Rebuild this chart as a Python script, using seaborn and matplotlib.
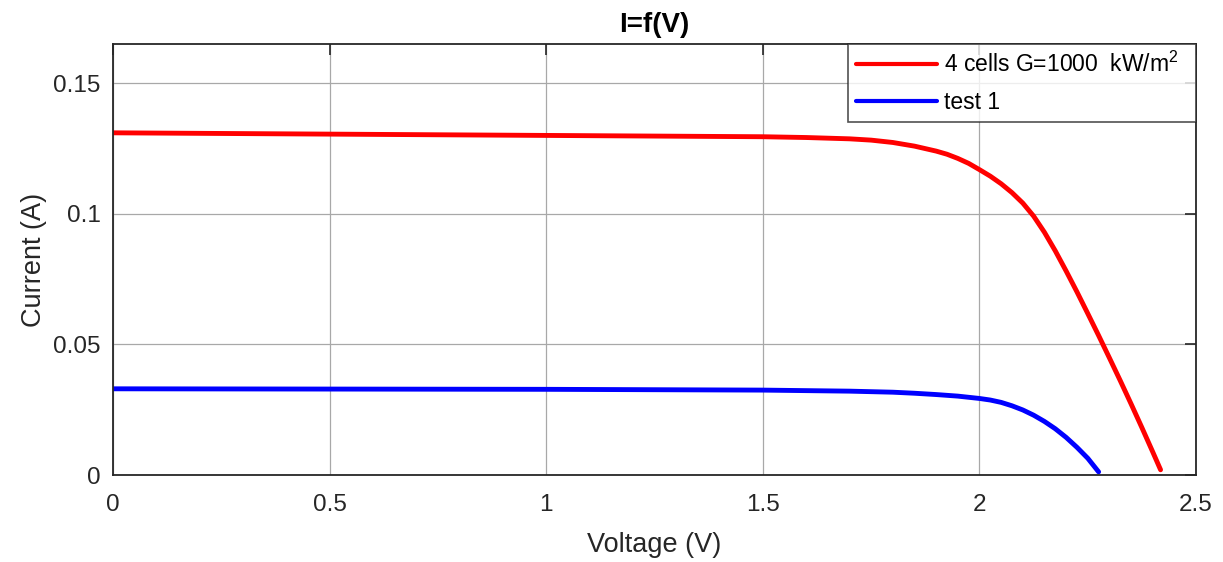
import numpy as np
import pandas as pd
import matplotlib
matplotlib.use("Agg")
import matplotlib.pyplot as plt
import seaborn as sns
from matplotlib.ticker import FormatStrFormatter

# I-V characteristic of the 4-cell module
v_module = [0.0, 0.5, 1.0, 1.5, 1.6, 1.7, 1.75, 1.8, 1.85, 1.9, 1.925, 1.95,
            1.975, 2.0, 2.025, 2.05, 2.075, 2.1, 2.125, 2.15, 2.175, 2.2,
            2.225, 2.25, 2.275, 2.3, 2.325, 2.35, 2.375, 2.4, 2.418]
i_module = [0.1310, 0.1305, 0.1300, 0.1295, 0.1292, 0.1287, 0.1282, 0.1273,
            0.1259, 0.1240, 0.1228, 0.1212, 0.1193, 0.1169, 0.1144, 0.1115,
            0.1081, 0.1041, 0.0991, 0.0929, 0.0858, 0.0781, 0.0701, 0.0618,
            0.0534, 0.0448, 0.0361, 0.0272, 0.0181, 0.0088, 0.0020]

# I-V characteristic of test 1
v_test = [0.0, 0.5, 1.0, 1.5, 1.6, 1.7, 1.75, 1.8, 1.85, 1.9, 1.95, 2.0,
          2.025, 2.05, 2.075, 2.1, 2.125, 2.15, 2.175, 2.2, 2.225, 2.25, 2.275]
i_test = [0.0330, 0.0329, 0.0328, 0.0325, 0.0323, 0.0321, 0.0319, 0.0317,
          0.0313, 0.0308, 0.0302, 0.0293, 0.0287, 0.0278, 0.0265, 0.0249,
          0.0229, 0.0205, 0.0177, 0.0144, 0.0106, 0.0064, 0.0012]

series_names = ["4 cells G=1000  kW/m$^2$", "test 1"]
series_colors = ["#ff0000", "#0000ff"]

x_ticks = [0, 0.5, 1, 1.5, 2, 2.5]
y_ticks = [0, 0.05, 0.1, 0.15]

df = pd.concat([
    pd.DataFrame({"Voltage": v_module, "Current": i_module, "series": series_names[0]}),
    pd.DataFrame({"Voltage": v_test, "Current": i_test, "series": series_names[1]}),
], ignore_index=True)

sns.set_theme(style="white")
plt.rcParams["font.family"] = ["Liberation Sans", "DejaVu Sans"]
plt.rcParams["mathtext.fontset"] = "custom"
plt.rcParams["mathtext.rm"] = "Liberation Sans"
plt.rcParams["mathtext.it"] = "Liberation Sans"

text_color = "#262626"

fig = plt.figure(figsize=(12.23, 5.62), dpi=100)
ax = fig.add_axes([0.0924, 0.1548, 0.9780 - 0.0924, 0.9217 - 0.1548])

sns.lineplot(data=df, x="Voltage", y="Current", hue="series",
             palette=series_colors, linewidth=3.5, sort=False,
             estimator=None, ax=ax)

ax.set_xlim(0, 2.5)
ax.set_ylim(0, 0.165)
ax.set_xticks(x_ticks)
ax.set_yticks(y_ticks)
ax.xaxis.set_major_formatter(FormatStrFormatter("%g"))
ax.yaxis.set_major_formatter(FormatStrFormatter("%g"))

ax.grid(True, color="#a8a8a8", linewidth=0.9)
ax.set_axisbelow(True)
ax.tick_params(direction="in", length=8, width=1.2, colors=text_color,
               labelsize=17.5, top=True, right=True)
ax.tick_params(axis="x", pad=14)
ax.tick_params(axis="y", pad=9)
for s in ax.spines.values():
    s.set_color(text_color)
    s.set_linewidth(1.3)

ax.set_xlabel("Voltage (V)", fontsize=19.5, color=text_color, labelpad=11)
ax.set_ylabel("Current (A)", fontsize=19.5, color=text_color, labelpad=4)
ax.set_title("I=f(V)", fontsize=20, fontweight="bold", color="black", pad=9)

# legend box spans the right third of the axes, flush with the top-right corner
leg = ax.legend(loc="upper left", bbox_to_anchor=(0.679, 0.0, 0.321, 1.0),
                mode="expand", borderaxespad=0, fontsize=16.5,
                handlelength=3.5, handletextpad=0.3, borderpad=0.35,
                labelspacing=0.6, frameon=True, fancybox=False)
leg.get_frame().set_edgecolor(text_color)
leg.get_frame().set_linewidth(1.2)
for t in leg.get_texts():
    t.set_color("black")
for line in leg.get_lines():
    line.set_linewidth(3.0)

fig.savefig("out.png", dpi=100, facecolor="white")
